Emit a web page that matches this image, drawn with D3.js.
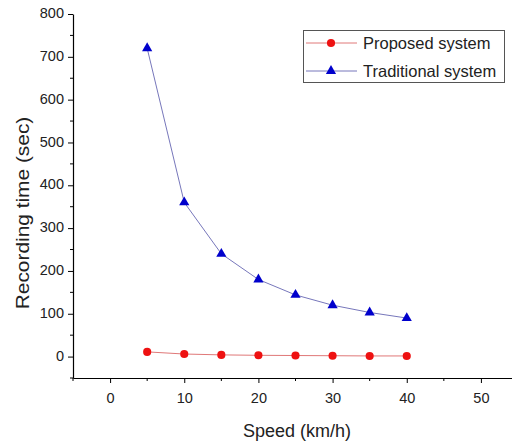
<!DOCTYPE html>
<html>
<head>
<meta charset="utf-8">
<script src="https://cdn.jsdelivr.net/npm/d3@7"></script>
<style>
  body { margin: 0; background: #fff; }
  svg { font-family: "Liberation Sans", Arial, sans-serif; }
</style>
</head>
<body>
<svg id="chart" width="512" height="441"></svg>
<script>
// data
const speeds = [5, 10, 15, 20, 25, 30, 35, 40];
const proposed = [11, 6, 4, 3, 2.5, 2, 1.5, 1.5];
const traditional = [720, 360, 240, 180, 144, 120, 103, 90];
const xTicks = [0, 10, 20, 30, 40, 50];
const yTicks = [0, 100, 200, 300, 400, 500, 600, 700, 800];

const svg = d3.select('#chart');

// plot area
const x = d3.scaleLinear().domain([-5, 55]).range([73, 518]);
const y = d3.scaleLinear().domain([-50, 800]).range([378, 14]);

// x axis
const xAxis = d3.axisBottom(x)
    .tickValues(xTicks)
    .tickSize(5)
    .tickSizeOuter(0)
    .tickFormat(d3.format('d'));
const gx = svg.append('g').attr('transform', 'translate(0,378)').call(xAxis);
gx.selectAll('.tick text').attr('font-size', 14.5).attr('fill', '#222').attr('dy', '1.2em');

// minor x ticks
svg.append('g').selectAll('line')
    .data(d3.range(-5, 56, 10))
    .enter().append('line')
    .attr('x1', d => x(d)).attr('x2', d => x(d))
    .attr('y1', 378).attr('y2', 381)
    .attr('stroke', '#000');

// y axis
const yAxis = d3.axisLeft(y)
    .tickValues(yTicks)
    .tickSize(5)
    .tickSizeOuter(0)
    .tickFormat(d3.format('d'));
const gy = svg.append('g').attr('transform', 'translate(73,0)').call(yAxis);
gy.selectAll('.tick text').attr('font-size', 14.5).attr('fill', '#222').attr('x', -9).attr('dy', '0.25em');

svg.append('g').selectAll('line')
    .data(d3.range(-50, 801, 100))
    .enter().append('line')
    .attr('x1', 70).attr('x2', 73)
    .attr('y1', d => y(d)).attr('y2', d => y(d))
    .attr('stroke', '#000');

svg.selectAll('.domain').attr('stroke', '#000').attr('stroke-width', 1.2);

// axis titles
svg.append('text')
    .attr('x', 297).attr('y', 437)
    .attr('text-anchor', 'middle')
    .attr('font-size', 18).attr('fill', '#222')
    .text('Speed (km/h)');

svg.append('text')
    .attr('transform', 'translate(29,213) rotate(-90) scale(1.16,1)')
    .attr('text-anchor', 'middle')
    .attr('font-size', 18).attr('fill', '#222')
    .text('Recording time (sec)');

// series
const series = [
    { name: 'Traditional system', values: traditional, line: '#7777bb', fill: '#0000cc', shape: d3.symbolTriangle, size: 45 },
    { name: 'Proposed system', values: proposed, line: '#e07878', fill: '#ee1111', shape: d3.symbolCircle, size: 52 }
];

const line = d3.line().x((d, i) => x(speeds[i])).y(d => y(d));

series.forEach(s => {
    svg.append('path')
        .datum(s.values)
        .attr('d', line)
        .attr('fill', 'none')
        .attr('stroke', s.line)
        .attr('stroke-width', 1);

    svg.append('g').selectAll('path')
        .data(s.values)
        .enter().append('path')
        .attr('transform', (d, i) => 'translate(' + x(speeds[i]) + ',' + y(d) + ')')
        .attr('d', d3.symbol().type(s.shape).size(s.size))
        .attr('fill', s.fill);
});

// legend
const legend = svg.append('g');
legend.append('rect')
    .attr('x', 303.5).attr('y', 30.5)
    .attr('width', 201).attr('height', 52)
    .attr('fill', '#fff').attr('stroke', '#555').attr('stroke-width', 1);

const legendItems = [series[1], series[0]];
legendItems.forEach((s, i) => {
    const cy = 43 + i * 28;
    legend.append('line')
        .attr('x1', 306).attr('x2', 357)
        .attr('y1', cy).attr('y2', cy)
        .attr('stroke', s.line).attr('stroke-width', 1);
    legend.append('path')
        .attr('transform', 'translate(331,' + cy + ')')
        .attr('d', d3.symbol().type(s.shape).size(s.size))
        .attr('fill', s.fill);
    legend.append('text')
        .attr('x', 363).attr('y', cy + 6)
        .attr('font-size', 16.5).attr('fill', '#222')
        .text(s.name);
});
</script>
</body>
</html>
